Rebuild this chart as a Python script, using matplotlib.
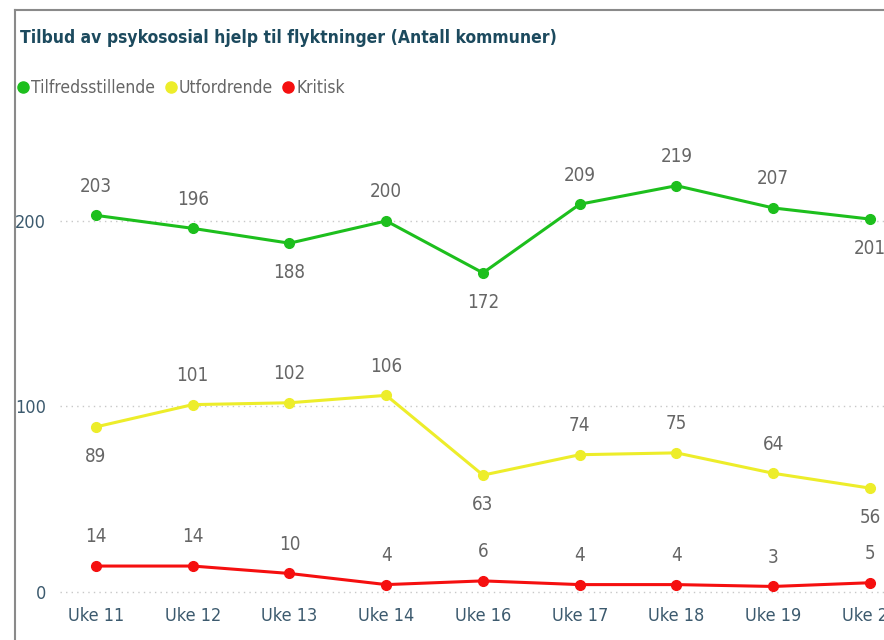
import matplotlib.pyplot as plt
from matplotlib.lines import Line2D

# ---- data
weeks = ["Uke 11", "Uke 12", "Uke 13", "Uke 14", "Uke 16", "Uke 17", "Uke 18", "Uke 19", "Uke 20"]
tilfreds = [203, 196, 188, 200, 172, 209, 219, 207, 201]
utford = [89, 101, 102, 106, 63, 74, 75, 64, 56]
kritisk = [14, 14, 10, 4, 6, 4, 4, 3, 5]

# label above (+1) or below (-1) the point
tilfreds_pos = [1, 1, -1, 1, -1, 1, 1, 1, -1]
utford_pos = [-1, 1, 1, 1, -1, 1, 1, 1, -1]
kritisk_pos = [1] * 9

plt.rcParams["font.family"] = ["DejaVu Sans"]
plt.rcParams["font.stretch"] = "condensed"

GREEN = "#1dbf1d"
YELLOW = "#eded2a"
RED = "#f50f0f"
LABEL = "#666666"
AXIS = "#3c5a6e"
TITLE = "#1c4a5e"

fig = plt.figure(figsize=(8.84, 6.4), dpi=100)

# panel border (left + top)
fig.add_artist(Line2D([15 / 884, 15 / 884], [0, 1 - 10 / 640], color="#8a8a8a", lw=1.5))
fig.add_artist(Line2D([15 / 884, 1], [1 - 10 / 640, 1 - 10 / 640], color="#8a8a8a", lw=1.5))

fig.text(20 / 884, 1 - 38 / 640, "Tilbud av psykososial hjelp til flyktninger (Antall kommuner)",
         color=TITLE, fontsize=12.5, fontweight="bold", va="center", ha="left")

ax = fig.add_axes([60 / 884, 40 / 640, 1 - 60 / 884, 480 / 640])
x = list(range(len(weeks)))
ax.set_xlim(-0.372, 8.145)
ax.set_ylim(-4.3, 254.4)

for y in [0, 100, 200]:
    ax.axhline(y, color="#c8c8c8", lw=1.0, ls=(0, (1, 3)), zorder=0)

series = [(tilfreds, GREEN, tilfreds_pos), (utford, YELLOW, utford_pos), (kritisk, RED, kritisk_pos)]
for vals, col, pos in series:
    ax.plot(x, vals, color=col, lw=2.2, marker="o", markersize=7, zorder=3)
    for xi, v, p in zip(x, vals, pos):
        ax.annotate(str(v), (xi, v), xytext=(0, 21 * p), textcoords="offset points",
                    ha="center", va="center", fontsize=13.5, color=LABEL, clip_on=False)

ax.set_xticks(x)
ax.set_xticklabels(weeks)
ax.set_yticks([0, 100, 200])
ax.tick_params(axis="both", length=0, labelsize=13, colors=AXIS)
ax.tick_params(axis="y", pad=10)
ax.tick_params(axis="x", pad=5)
for s in ax.spines.values():
    s.set_visible(False)

handles = [Line2D([], [], ls="none", marker="o", markersize=8, color=c) for c in (GREEN, YELLOW, RED)]
fig.legend(handles, ["Tilfredsstillende", "Utfordrende", "Kritisk"], loc="center left",
           bbox_to_anchor=(18 / 884, 1 - 88 / 640), ncol=3, frameon=False, fontsize=12.5,
           handlelength=0.6, handletextpad=0.15, columnspacing=0.6, labelcolor="#666666",
           borderpad=0, borderaxespad=0)

fig.savefig("out.png", dpi=100)
